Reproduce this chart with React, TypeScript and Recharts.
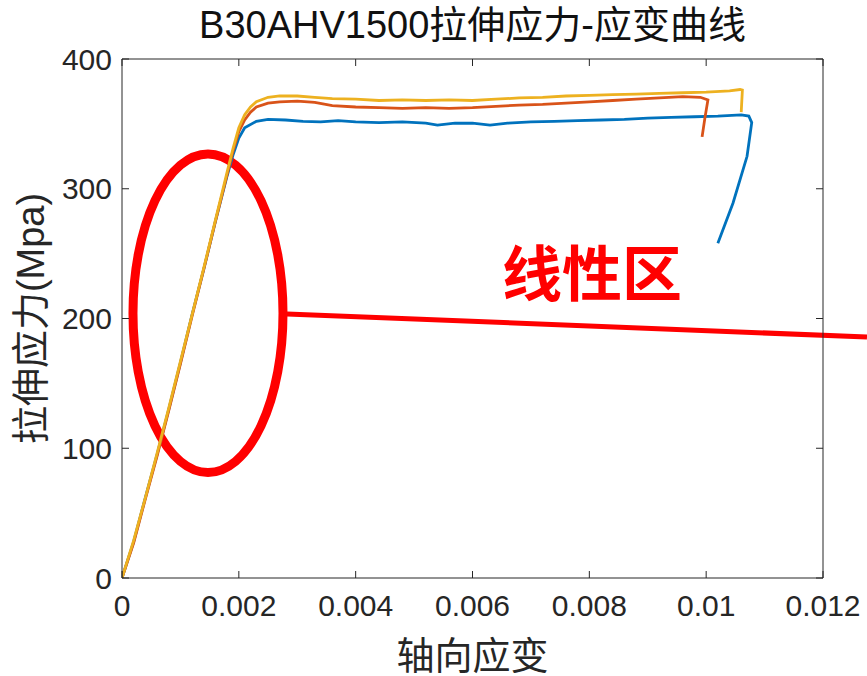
import React from 'react';
import { LineChart, Line, XAxis, YAxis, ReferenceArea, ReferenceLine, ReferenceDot } from 'recharts';

const title = 'B30AHV1500拉伸应力-应变曲线';
const xLabel = '轴向应变';
const yLabel = '拉伸应力(Mpa)';
const noteText = '线性区';

const xTicks = [0, 0.002, 0.004, 0.006, 0.008, 0.01, 0.012];
const xTickLabels = ['0', '0.002', '0.004', '0.006', '0.008', '0.01', '0.012'];
const yTicks = [0, 100, 200, 300, 400];

// [strain, stress]
const blueCurve: [number, number][] = [
  [0, 0], [0.0002, 28], [0.0004, 62], [0.0006, 95], [0.0008, 130], [0.001, 166], [0.0012, 203],
  [0.0014, 238], [0.0016, 275], [0.0018, 310], [0.0019, 326], [0.002, 339], [0.0021, 347],
  [0.0023, 352], [0.0025, 353.5], [0.0028, 353], [0.0031, 352], [0.0034, 351.5], [0.0037, 352.5],
  [0.004, 351.5], [0.0044, 351], [0.0048, 351.5], [0.0052, 350.5], [0.0054, 349], [0.0057, 350.5],
  [0.006, 350.5], [0.0063, 349], [0.0066, 350.5], [0.007, 351.5], [0.0074, 352], [0.0078, 352.5],
  [0.0082, 353], [0.0086, 353.5], [0.009, 354.5], [0.0094, 355], [0.0098, 355.5], [0.0102, 356],
  [0.0106, 357], [0.01073, 356], [0.01078, 351], [0.0107, 325], [0.01046, 289], [0.0102, 258],
];

const orangeCurve: [number, number][] = [
  [0, 0], [0.0002, 27], [0.0004, 61], [0.0006, 94], [0.0008, 129], [0.001, 165], [0.0012, 202],
  [0.0014, 238], [0.0016, 275], [0.0018, 311], [0.0019, 329], [0.002, 344], [0.0021, 353],
  [0.0022, 359], [0.0023, 363], [0.0025, 366], [0.0027, 367], [0.003, 367.5], [0.0033, 366.5],
  [0.0036, 364], [0.004, 363], [0.0044, 362.5], [0.0048, 362], [0.0052, 362.5], [0.0056, 362],
  [0.006, 362.5], [0.0064, 363.5], [0.0068, 364.5], [0.0072, 365], [0.0076, 366], [0.008, 367],
  [0.0084, 368], [0.0088, 369], [0.0092, 370], [0.0096, 371], [0.0099, 370.5], [0.01003, 368.5],
  [0.00998, 355], [0.00993, 340],
];

const yellowCurve: [number, number][] = [
  [0, 0], [0.0002, 29], [0.0004, 62], [0.0006, 96], [0.0008, 131], [0.001, 167], [0.0012, 203],
  [0.0014, 239], [0.0016, 276], [0.0018, 313], [0.0019, 331], [0.002, 347], [0.0021, 357],
  [0.0022, 363], [0.0023, 367], [0.0025, 370.5], [0.0027, 371.5], [0.003, 371.5], [0.0033, 370.5],
  [0.0036, 369.5], [0.004, 369], [0.0044, 368], [0.0048, 368.5], [0.0052, 368], [0.0056, 368.5],
  [0.006, 368], [0.0064, 369], [0.0068, 370], [0.0072, 370.5], [0.0076, 371.5], [0.008, 372],
  [0.0084, 372.5], [0.0088, 373], [0.0092, 373.5], [0.0096, 374], [0.01, 374.5], [0.0104, 375.5],
  [0.01058, 376.5], [0.01062, 376], [0.0106, 359],
];

// annotation values (data coordinates)
const ellipseStrain = [0.000188, 0.002756];
const ellipseStress = [81.3, 326.8];
const pointerStart: [number, number] = [0.002824, 203.5];
const pointerEnd: [number, number] = [0.012753, 185.7];
const notePos: [number, number] = [0.008045, 233.5];

const toRows = (c: [number, number][]) => c.map(([e, s]) => ({ e, s }));

const AXIS = '#262626';
const FONT = '"Liberation Sans", Arial, "Noto Sans CJK SC", sans-serif';

export default function App() {
  return (
    <div style={{ position: 'absolute', left: 0, top: 0, width: 867, height: 676, background: '#fff' }}>
      <svg width={867} height={60} style={{ position: 'absolute', left: 0, top: 0 }}>
        <text x={472.5} y={38} textAnchor="middle" fontSize={38} fill="#111" fontFamily={FONT}>{title}</text>
      </svg>
      <LineChart
        width={867}
        height={676}
        margin={{ top: 58, right: 43, bottom: 0, left: 0 }}
        style={{ fontFamily: FONT }}
      >
        <XAxis
          xAxisId="b"
          dataKey="e"
          type="number"
          domain={[0, 0.012]}
          ticks={xTicks}
          tickFormatter={(v: number) => xTickLabels[xTicks.indexOf(v)] ?? String(v)}
          height={98}
          tickSize={-7}
          tickMargin={24}
          stroke={AXIS}
          tick={{ fill: AXIS, fontSize: 30 }}
          allowDataOverflow
          label={{ value: xLabel, position: 'insideBottom', offset: 7, fill: AXIS, fontSize: 38 }}
        />
        <XAxis
          xAxisId="t"
          dataKey="e"
          orientation="top"
          type="number"
          domain={[0, 0.012]}
          ticks={xTicks}
          tickFormatter={() => ''}
          height={1}
          tickSize={-7}
          stroke={AXIS}
          allowDataOverflow
        />
        <YAxis
          yAxisId="l"
          type="number"
          domain={[0, 400]}
          ticks={yTicks}
          width={122}
          tickSize={-7}
          tickMargin={17}
          stroke={AXIS}
          tick={{ fill: AXIS, fontSize: 30 }}
          allowDataOverflow
          label={{
            content: (p: any) => {
              const vb = p.viewBox || { x: 0, y: 59, width: 122, height: 519 };
              const cx = vb.x + 31;
              const cy = vb.y + vb.height / 2;
              return (
                <text x={cx} y={cy} transform={`rotate(-90 ${cx} ${cy})`} textAnchor="middle" dominantBaseline="central" fontSize={38} fill={AXIS} fontFamily={FONT}>
                  {yLabel}
                </text>
              );
            },
          }}
        />
        <YAxis
          yAxisId="r"
          orientation="right"
          type="number"
          domain={[0, 400]}
          ticks={yTicks}
          width={1}
          tickSize={-7}
          tickFormatter={() => ''}
          stroke={AXIS}
          allowDataOverflow
        />
        <Line xAxisId="b" yAxisId="l" data={toRows(blueCurve)} dataKey="s" stroke="#0072BD" strokeWidth={2.8} dot={false} isAnimationActive={false} />
        <Line xAxisId="b" yAxisId="l" data={toRows(orangeCurve)} dataKey="s" stroke="#D95319" strokeWidth={2.8} dot={false} isAnimationActive={false} />
        <Line xAxisId="b" yAxisId="l" data={toRows(yellowCurve)} dataKey="s" stroke="#EDB120" strokeWidth={2.8} dot={false} isAnimationActive={false} />
        <Line xAxisId="t" yAxisId="r" data={toRows(blueCurve)} dataKey="s" stroke="none" strokeWidth={0} dot={false} activeDot={false} isAnimationActive={false} />
        <ReferenceArea
          xAxisId="b"
          yAxisId="l"
          x1={ellipseStrain[0]}
          x2={ellipseStrain[1]}
          y1={ellipseStress[0]}
          y2={ellipseStress[1]}
          ifOverflow="visible"
          shape={(p: any) => (
            <ellipse cx={p.x + p.width / 2} cy={p.y + p.height / 2} rx={p.width / 2} ry={p.height / 2} fill="none" stroke="#FF0000" strokeWidth={9} />
          )}
        />
        <ReferenceLine
          xAxisId="b"
          yAxisId="l"
          segment={[{ x: pointerStart[0], y: pointerStart[1] }, { x: pointerEnd[0], y: pointerEnd[1] }]}
          stroke="#FF0000"
          strokeWidth={5}
          ifOverflow="visible"
        />
        <ReferenceDot
          xAxisId="b"
          yAxisId="l"
          x={notePos[0]}
          y={notePos[1]}
          ifOverflow="visible"
          shape={(p: any) => (
            <text x={p.cx} y={p.cy} textAnchor="middle" dominantBaseline="central" fontSize={60} fontWeight="bold" fill="#FF0000" fontFamily={FONT}>
              {noteText}
            </text>
          )}
        />
      </LineChart>
    </div>
  );
}
